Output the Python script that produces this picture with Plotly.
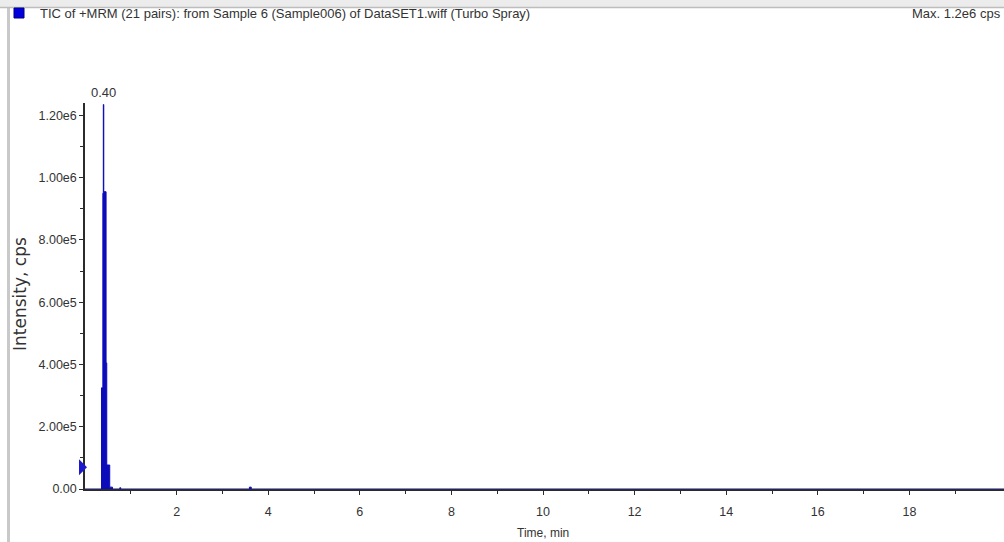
import plotly.graph_objects as go

# ---- chromatogram data (TIC, +MRM) ----
times = [0.00, 0.35, 0.36, 0.39, 0.40, 0.41, 0.46, 0.475, 0.54, 0.60,
         0.76, 0.78, 3.59, 3.63, 20.07]
intensity = [0, 0, 3.25e5, 9.5e5, 1.235e6, 9.55e5, 4.05e5, 7.7e4, 6e3, 0,
             4e3, 0, 6e3, 0, 0]

peak_time = 0.40
peak_height = 1.235e6
peak_label = "0.40"

threshold_level = 7.0e4

x_ticks = [2, 4, 6, 8, 10, 12, 14, 16, 18]
x_minor = [1, 3, 5, 7, 9, 11, 13, 15, 17, 19]
y_ticks = [0, 2e5, 4e5, 6e5, 8e5, 1.0e6, 1.2e6]
y_tick_text = ["0.00", "2.00e5", "4.00e5", "6.00e5", "8.00e5", "1.00e6", "1.20e6"]
y_minor = [1e5, 3e5, 5e5, 7e5, 9e5, 1.1e6]
y_max = 1.24e6

title_text = "TIC of +MRM (21 pairs): from Sample 6 (Sample006) of DataSET1.wiff (Turbo Spray)"
max_text = "Max. 1.2e6 cps"

# ---- page geometry (pixels) ----
W, H = 1004, 542
ML, MR, MT, MB = 85, 0, 103, 53
PW, PH = W - ML - MR, H - MT - MB


def px(x):
    return (x - ML) / PW


def py(y):
    return (H - MB - y) / PH


FONT = "Liberation Sans, Arial, sans-serif"
TXT = "#333333"
BLUE = "#0c0cba"

fig = go.Figure()
fig.add_trace(go.Scatter(
    x=times, y=intensity, mode="lines", line=dict(color=BLUE, width=1, shape="hv"),
    fill="tozeroy", fillcolor=BLUE, hoverinfo="skip", showlegend=False,
))

shapes = [
    # header strip
    dict(type="rect", xref="paper", yref="paper", x0=px(0), x1=px(W), y0=py(0), y1=py(7),
         fillcolor="#ececec", line=dict(width=0), layer="below"),
    dict(type="line", xref="paper", yref="paper", x0=px(0), x1=px(W), y0=py(7.5), y1=py(7.5),
         line=dict(color="#bdbdbd", width=1.5)),
    # left pane border
    dict(type="rect", xref="paper", yref="paper", x0=px(7), x1=px(10), y0=py(8), y1=py(H),
         fillcolor="#c9c9c9", line=dict(width=0), layer="below"),
    # legend swatch
    dict(type="rect", xref="paper", yref="paper", x0=px(14), x1=px(24), y0=py(8), y1=py(18),
         fillcolor="#0000dd", line=dict(color="#000080", width=1)),
    # threshold marker on the intensity axis
    dict(type="path", xref="paper", yref="paper", xsizemode="pixel", ysizemode="pixel",
         xanchor=0, yanchor=threshold_level / y_max, path="M-6,-8 L2,0 L-6,8 Z",
         fillcolor="#1a1acc", line=dict(width=0)),
]

annotations = [
    dict(xref="paper", yref="paper", x=px(38), y=py(13), xanchor="left", yanchor="middle",
         text=title_text, showarrow=False, font=dict(family=FONT, size=13, color=TXT)),
    dict(xref="paper", yref="paper", x=px(1003), y=py(13), xanchor="right", yanchor="middle",
         text=max_text, showarrow=False, font=dict(family=FONT, size=13, color=TXT)),
    dict(xref="x", yref="y", x=peak_time, y=peak_height, yshift=3, xanchor="center",
         yanchor="bottom", text=peak_label, showarrow=False,
         font=dict(family=FONT, size=13, color=TXT)),
    dict(xref="paper", yref="paper", x=px(20), y=py(294), xanchor="center", yanchor="middle",
         text="Intensity, cps", textangle=-90, showarrow=False,
         font=dict(family="DejaVu Sans, Verdana, sans-serif", size=17, color=TXT)),
    dict(xref="x", yref="paper", x=10, y=py(533), xanchor="center", yanchor="middle",
         text="Time, min", showarrow=False, font=dict(family=FONT, size=12, color=TXT)),
]

axis_common = dict(
    showgrid=False, zeroline=False, showline=True, linecolor="#2b2b2b", linewidth=1.5,
    ticks="outside", ticklen=4, tickwidth=1, tickcolor="#2b2b2b",
    tickfont=dict(family=FONT, size=12.5, color=TXT),
)

fig.update_layout(
    width=W, height=H, autosize=False,
    margin=dict(l=ML, r=MR, t=MT, b=MB, pad=0),
    paper_bgcolor="white", plot_bgcolor="white",
    shapes=shapes, annotations=annotations, showlegend=False,
    xaxis=dict(range=[0, PW / 45.8], tickmode="array", tickvals=x_ticks,
               ticktext=[str(v) for v in x_ticks], ticklabelstandoff=6,
               minor=dict(tickmode="array", tickvals=x_minor, ticks="outside", ticklen=3,
                          tickcolor="#2b2b2b"),
               **axis_common),
    yaxis=dict(range=[0, y_max], tickmode="array", tickvals=y_ticks, ticktext=y_tick_text,
               minor=dict(tickmode="array", tickvals=y_minor, ticks="outside", ticklen=3,
                          tickcolor="#2b2b2b"),
               **axis_common),
)

fig.write_html("out.html")
